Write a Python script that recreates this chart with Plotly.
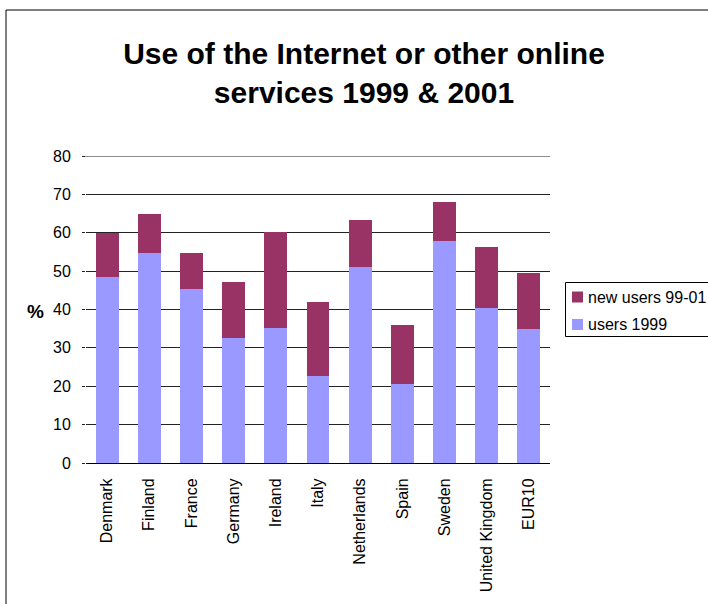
import plotly.graph_objects as go

# Share of population using the Internet or other online services (%)
countries = ["Denmark", "Finland", "France", "Germany", "Ireland", "Italy",
             "Netherlands", "Spain", "Sweden", "United Kingdom", "EUR10"]
users_1999 = [48.4, 54.7, 45.3, 32.5, 35.2, 22.7, 51.1, 20.6, 57.8, 40.4, 34.9]
total_2001 = [60.0, 64.9, 54.7, 47.1, 60.2, 41.9, 63.3, 35.9, 68.0, 56.3, 49.5]
new_users_99_01 = [round(t - u, 1) for t, u in zip(total_2001, users_1999)]
y_ticks = [0, 10, 20, 30, 40, 50, 60, 70, 80]

series_names = ["users 1999", "new users 99-01"]
series_colors = ["#9999FF", "#993366"]

W, H = 708, 604
L, R, T, B = 86, 550, 156, 463  # plot area in pixels
Y_MAX = y_ticks[-1]

font = "Liberation Sans, Arial, sans-serif"

fig = go.Figure()
for name, vals, col in zip(series_names, [users_1999, new_users_99_01], series_colors):
    fig.add_trace(go.Bar(x=countries, y=vals, name=name, showlegend=False,
                         marker=dict(color=col, line=dict(width=0))))


def px_x(px):
    return (px - L) / (R - L)


def px_y(py):
    return (B - py) / (B - T)


# Outer chart border
shapes = [dict(type="rect", xref="paper", yref="paper",
               x0=px_x(6), x1=px_x(730), y0=px_y(640), y1=px_y(10),
               line=dict(color="black", width=1), fillcolor="rgba(0,0,0,0)",
               layer="below")]

# Top gridline sits on the plot edge, so draw it explicitly
shapes.append(dict(type="line", xref="paper", yref="y",
                   x0=px_x(83), x1=1, y0=Y_MAX, y1=Y_MAX,
                   line=dict(color="#222222", width=1), layer="below"))

# Legend box with swatches, listed top-down in stack order (top series first)
shapes.append(dict(type="rect", xref="paper", yref="paper",
                   x0=px_x(565.5), x1=px_x(730), y0=px_y(336.5), y1=px_y(282.5),
                   line=dict(color="black", width=1), fillcolor="white"))
annotations = []
legend_rows = [(series_names[1], series_colors[1], 297),
               (series_names[0], series_colors[0], 324.5)]
for name, col, cy in legend_rows:
    shapes.append(dict(type="rect", xref="paper", yref="paper",
                       x0=px_x(572), x1=px_x(583), y0=px_y(cy + 5.5), y1=px_y(cy - 5.5),
                       line=dict(width=0), fillcolor=col))
    annotations.append(dict(text=name, xref="paper", yref="paper",
                            x=px_x(586), y=px_y(cy), xanchor="left", yanchor="middle",
                            showarrow=False,
                            font=dict(family=font, size=16, color="black")))

annotations.append(dict(text="<b>%</b>", xref="paper", yref="paper",
                        x=px_x(35.5), y=px_y(311.5), showarrow=False,
                        xanchor="center", yanchor="middle",
                        font=dict(family=font, size=19, color="black")))

fig.update_layout(
    width=W, height=H,
    barmode="stack", bargap=0.455,
    margin=dict(l=L, r=W - R, t=T, b=H - B, autoexpand=False),
    paper_bgcolor="white", plot_bgcolor="white",
    font=dict(family=font, size=16, color="black"),
    title=dict(text="<b>Use of the Internet or other online<br>services 1999 & 2001</b>",
               x=364 / W, xanchor="center", xref="container",
               y=1 - 64 / H, yanchor="middle", yref="container",
               font=dict(family=font, size=30, color="black")),
    showlegend=False,
    xaxis=dict(type="category", tickangle=-90, showgrid=False,
               showline=True, linecolor="black", linewidth=1,
               ticks="", ticklabelstandoff=8,
               tickfont=dict(family=font, size=16)),
    yaxis=dict(range=[0, Y_MAX], tickvals=y_ticks, showgrid=True,
               gridcolor="#222222", gridwidth=1, zeroline=False,
               showline=False, ticks="outside", ticklen=3, tickcolor="#222222",
               ticklabelstandoff=8,
               tickfont=dict(family=font, size=16)),
    shapes=shapes,
    annotations=annotations,
)

fig.write_html("out.html")
